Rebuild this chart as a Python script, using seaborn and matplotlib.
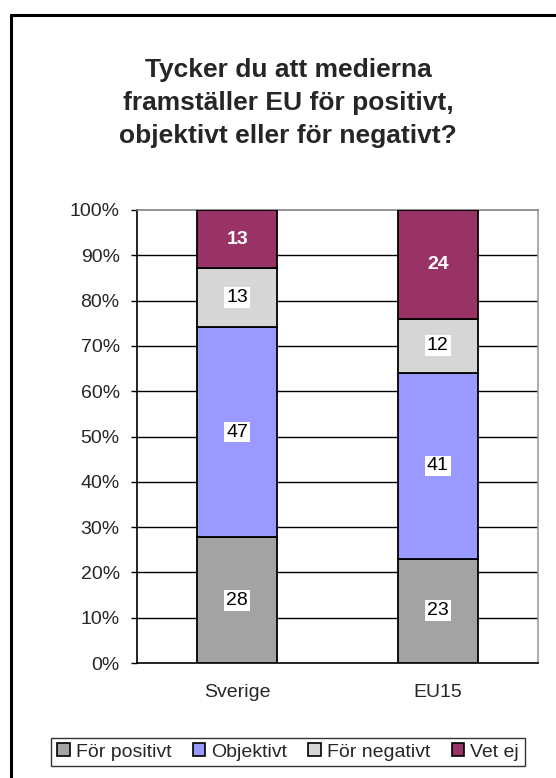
import matplotlib
matplotlib.use("Agg")
import matplotlib.pyplot as plt
import seaborn as sns
import numpy as np
import pandas as pd
from matplotlib.patches import Patch
from matplotlib.lines import Line2D

categories = ["Sverige", "EU15"]
series = ["För positivt", "Objektivt", "För negativt", "Vet ej"]
for_positivt = [28, 23]
objektivt = [47, 41]
for_negativt = [13, 12]
vet_ej = [13, 24]
ytick_labels = ["0%", "10%", "20%", "30%", "40%", "50%", "60%", "70%", "80%", "90%", "100%"]
title = "Tycker du att medierna\nframställer EU för positivt,\nobjektivt eller för negativt?"

colors = ["#A3A3A3", "#9999FF", "#D6D6D6", "#993366"]

sns.set_theme(style="white")
plt.rcParams['font.family'] = ['Liberation Sans', 'DejaVu Sans']

FS = 14

values = np.array([for_positivt, objektivt, for_negativt, vet_ej], dtype=float)
totals = values.sum(axis=0)
shares = values / totals

fig = plt.figure(figsize=(5.56, 7.78), dpi=100)
ax = fig.add_axes([137/556, 1-663/778, (538-137)/556, (663-210)/778])

bottom = np.zeros(len(categories))
for i, name in enumerate(series):
    df = pd.DataFrame({"cat": categories, "val": shares[i]})
    sns.barplot(data=df, x="cat", y="val", bottom=bottom, color=colors[i],
                width=0.4, edgecolor="black", linewidth=1.3, saturation=1,
                ax=ax, zorder=3)
    for j in range(len(categories)):
        yc = bottom[j] + shares[i][j] / 2
        if name == "Vet ej":
            ax.text(j, yc, f"{int(values[i][j])}", ha="center", va="center",
                    fontsize=FS, color="white", fontweight="bold", zorder=5)
        else:
            ax.text(j, yc, f"{int(values[i][j])}", ha="center", va="center",
                    fontsize=FS, color="black", zorder=5,
                    bbox=dict(boxstyle="square,pad=0.1", fc="white", ec="none"))
    bottom = bottom + shares[i]

ax.set_xlim(-0.5, 1.5)
ax.set_ylim(0, 1)
ax.set_yticks(np.linspace(0, 1, 11))
ax.set_yticklabels(ytick_labels, fontsize=FS)
ax.set_xticks([0, 1])
ax.set_xticklabels(categories, fontsize=FS)
ax.set_xticks([-0.5, 0.5, 1.5], minor=True)
ax.tick_params(axis="x", which="major", length=0, pad=15)
ax.tick_params(axis="x", which="minor", length=4.5, width=1, color="black", direction="out")
ax.tick_params(axis="y", length=4.5, width=1, color="black", direction="out", pad=8, left=True)
ax.set_xlabel("")
ax.set_ylabel("")
for y in np.linspace(0.1, 0.9, 9):
    ax.axhline(y, color="black", lw=1, zorder=1)
ax.spines["left"].set_color("black")
ax.spines["bottom"].set_color("black")
ax.spines["top"].set_color("#808080")
ax.spines["right"].set_color("#A0A0A0")
for s in ax.spines.values():
    s.set_linewidth(1.2)
    s.set_visible(True)

fig.text(288/556, 1-103/778, title, ha="center", va="center", fontsize=19,
         fontweight="bold", linespacing=1.48)

handles = [Patch(facecolor=c, edgecolor="black", linewidth=1.2) for c in colors]
leg = fig.legend(handles, series, loc="center", bbox_to_anchor=(288/556, 1-752/778),
                 ncol=4, frameon=True, fontsize=FS, handlelength=0.65, handleheight=0.65,
                 handletextpad=0.3, columnspacing=1.1, borderpad=0.3,
                 fancybox=False, edgecolor="black")
leg.get_frame().set_linewidth(1)

# outer chart frame
fig.add_artist(Line2D([11/556, 11/556], [1-15/778, -0.1], color="black", lw=2.2,
                      transform=fig.transFigure))
fig.add_artist(Line2D([11/556, 1.1], [1-15/778, 1-15/778], color="black", lw=2.2,
                      transform=fig.transFigure))

fig.savefig("out.png", dpi=100)
